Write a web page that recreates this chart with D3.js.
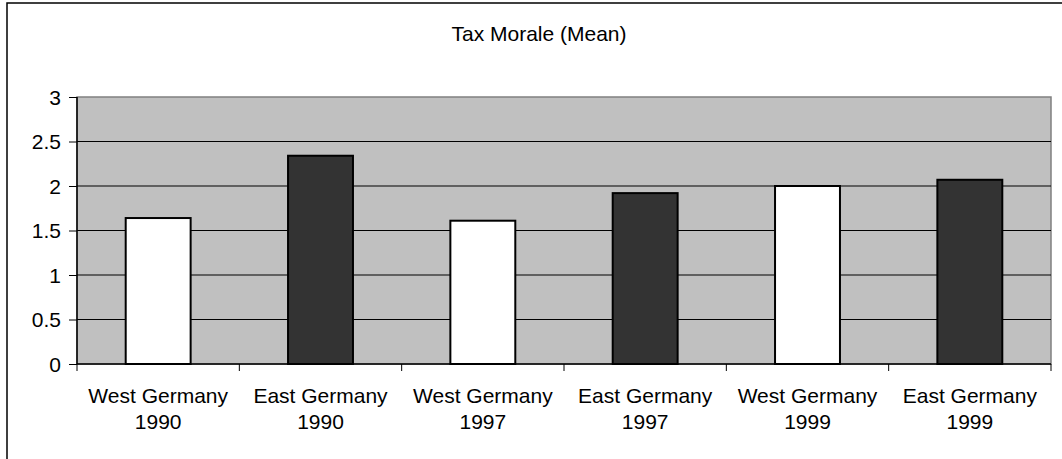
<!DOCTYPE html>
<html>
<head>
<meta charset="utf-8">
<script src="https://cdn.jsdelivr.net/npm/d3@7"></script>
<style>
  body { margin: 0; background: #fff; }
  text { font-family: "Liberation Sans", Arial, sans-serif; fill: #000; }
</style>
</head>
<body>
<script>
// data
var regions = ["West Germany", "East Germany", "West Germany", "East Germany", "West Germany", "East Germany"];
var years = ["1990", "1990", "1997", "1997", "1999", "1999"];
var means = [1.64, 2.34, 1.61, 1.92, 2.00, 2.07];
var yTicks = [0, 0.5, 1, 1.5, 2, 2.5, 3];

var W = 1062, H = 459;
var margin = {top: 97, right: 11, bottom: 95, left: 77};
var width = W - margin.left - margin.right;
var height = H - margin.top - margin.bottom;

var svg = d3.select("body").append("svg")
    .attr("width", W)
    .attr("height", H);

// outer chart border (only top and left show)
svg.append("rect")
    .attr("x", 7).attr("y", 3)
    .attr("width", W + 20).attr("height", H + 20)
    .attr("fill", "#fff")
    .attr("stroke", "#000")
    .attr("stroke-width", 1.5);

svg.append("text")
    .attr("x", 539).attr("y", 41)
    .attr("text-anchor", "middle")
    .style("font-size", "21px")
    .text("Tax Morale (Mean)");

var g = svg.append("g")
    .attr("transform", "translate(" + margin.left + "," + margin.top + ")");

var idx = d3.range(means.length);
var x = d3.scaleBand().domain(idx).range([0, width]).paddingInner(0.6).paddingOuter(0.3);
var y = d3.scaleLinear().domain([0, 3]).range([height, 0]);

// plot area
g.append("rect")
    .attr("width", width).attr("height", height)
    .attr("fill", "#c0c0c0")
    .attr("stroke", "#808080")
    .attr("stroke-width", 1.5);

// gridlines
g.selectAll(".grid").data(yTicks.slice(1, -1)).enter().append("line")
    .attr("x1", 0).attr("x2", width)
    .attr("y1", function(d) { return y(d); })
    .attr("y2", function(d) { return y(d); })
    .attr("stroke", "#000")
    .attr("stroke-width", 1);

// bars
g.selectAll(".bar").data(idx).enter().append("rect")
    .attr("x", function(i) { return x(i); })
    .attr("y", function(i) { return y(means[i]); })
    .attr("width", x.bandwidth())
    .attr("height", function(i) { return height - y(means[i]); })
    .attr("fill", function(i) { return i % 2 === 0 ? "#ffffff" : "#333333"; })
    .attr("stroke", "#000")
    .attr("stroke-width", 2);

// y axis
var yAxis = g.append("g")
    .call(d3.axisLeft(y).tickValues(yTicks).tickSize(8).tickPadding(8).tickFormat(d3.format("")));
yAxis.select(".domain").attr("stroke", "#000").attr("stroke-width", 1.5).attr("d", "M0,0V" + height);
yAxis.selectAll("text").style("font-size", "21px").attr("dy", "0.35em");

// x axis: ticks at category boundaries
var step = width / means.length;
var xg = g.append("g").attr("transform", "translate(0," + height + ")");
xg.append("line").attr("x1", 0).attr("x2", width).attr("stroke", "#000").attr("stroke-width", 1.5);
xg.selectAll(".tk").data(d3.range(means.length + 1)).enter().append("line")
    .attr("x1", function(i) { return i * step; })
    .attr("x2", function(i) { return i * step; })
    .attr("y1", 0).attr("y2", 7)
    .attr("stroke", "#000");

var lbl = xg.selectAll(".lbl").data(idx).enter().append("text")
    .attr("text-anchor", "middle")
    .attr("transform", function(i) { return "translate(" + (x(i) + x.bandwidth() / 2) + ",0)"; })
    .style("font-size", "21px");
lbl.append("tspan").attr("x", 0).attr("y", 39).text(function(i) { return regions[i]; });
lbl.append("tspan").attr("x", 0).attr("y", 65).text(function(i) { return years[i]; });
</script>
</body>
</html>
